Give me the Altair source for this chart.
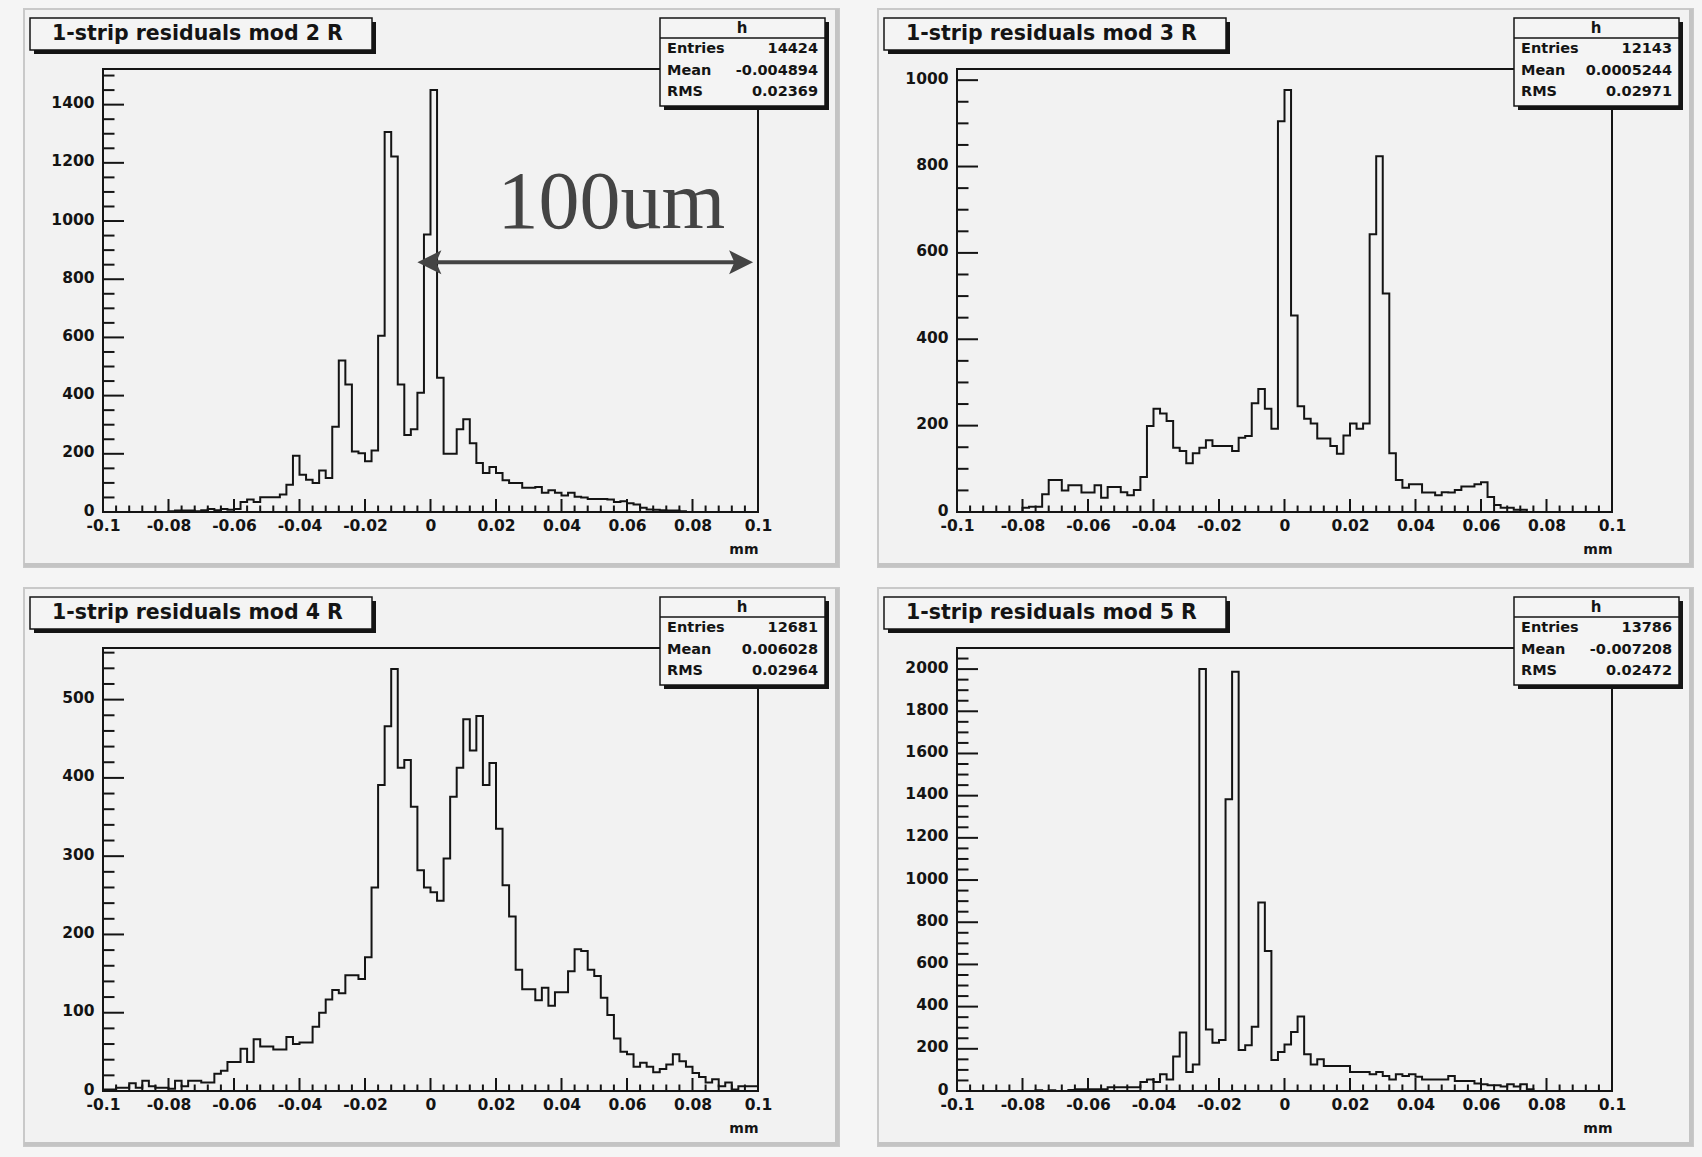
import altair as alt
import pandas as pd

# ---- histogram binning: 100 bins over [-0.1, 0.1] mm ----
X_MIN, X_MAX, N_BINS = -0.1, 0.1, 100

# bin contents (left to right)
counts_mod2 = [
    0, 0, 0, 0, 0, 0, 0, 0, 0, 0,
    3, 5, 5, 5, 3, 6, 10, 6, 10, 8,
    10, 34, 43, 34, 51, 51, 51, 60, 94, 193,
    128, 111, 100, 143, 117, 293, 521, 438, 208, 202,
    174, 211, 606, 1306, 1222, 438, 265, 284, 410, 954,
    1450, 461, 200, 200, 284, 319, 236, 168, 134, 155,
    134, 109, 100, 100, 83, 83, 86, 66, 75, 66,
    57, 66, 52, 50, 45, 45, 45, 43, 34, 37,
    30, 26, 15, 9, 8, 6, 5, 5, 3, 0,
    0, 0, 0, 0, 0, 0, 0, 0, 0, 0,
]
counts_mod3 = [
    0, 0, 0, 0, 0, 0, 0, 0, 0, 0,
    10, 12, 12, 41, 74, 74, 50, 62, 62, 45,
    45, 62, 33, 58, 58, 46, 39, 51, 81, 199,
    239, 228, 211, 149, 141, 113, 136, 149, 166, 153,
    153, 153, 141, 172, 176, 252, 285, 239, 193, 905,
    977, 455, 245, 216, 205, 170, 170, 153, 135, 177,
    205, 193, 205, 643, 824, 506, 136, 74, 56, 64,
    64, 45, 45, 39, 46, 45, 51, 59, 59, 64,
    69, 35, 16, 10, 10, 5, 5, 0, 0, 0,
    0, 0, 0, 0, 0, 0, 0, 0, 0, 0,
]
counts_mod4 = [
    2, 2, 4, 4, 10, 4, 13, 6, 4, 4,
    3, 13, 6, 13, 13, 11, 11, 22, 26, 37,
    37, 54, 37, 66, 57, 57, 53, 53, 69, 60,
    62, 62, 82, 100, 117, 129, 125, 148, 148, 143,
    171, 260, 391, 466, 539, 413, 423, 363, 282, 260,
    254, 243, 297, 376, 413, 475, 435, 479, 391, 419,
    335, 263, 223, 155, 130, 130, 116, 132, 109, 126,
    126, 153, 181, 179, 155, 147, 119, 97, 67, 50,
    47, 31, 36, 31, 24, 28, 34, 47, 38, 31,
    23, 18, 11, 15, 6, 11, 2, 6, 6, 6,
]
counts_mod5 = [
    0, 0, 0, 0, 0, 0, 0, 0, 0, 0,
    0, 0, 3, 0, 3, 0, 0, 5, 8, 8,
    8, 8, 8, 18, 18, 18, 18, 18, 43, 55,
    43, 79, 55, 163, 277, 90, 126, 2000, 292, 229,
    242, 1383, 1987, 194, 217, 305, 893, 664, 147, 185,
    221, 280, 353, 174, 126, 150, 119, 119, 119, 119,
    90, 90, 90, 79, 90, 71, 55, 79, 71, 79,
    68, 55, 55, 55, 55, 71, 47, 47, 47, 36,
    32, 27, 27, 21, 32, 21, 32, 8, 0, 0,
    0, 0, 0, 0, 0, 0, 0, 0, 0, 0,
]

titles = [
    "1-strip residuals mod 2 R",
    "1-strip residuals mod 3 R",
    "1-strip residuals mod 4 R",
    "1-strip residuals mod 5 R",
]
stat_entries = ["14424", "12143", "12681", "13786"]
stat_means = ["-0.004894", "0.0005244", "0.006028", "-0.007208"]
stat_rms = ["0.02369", "0.02971", "0.02964", "0.02472"]
y_major_steps = [200, 200, 100, 200]
y_minor_steps = [50, 50, 20, 50]
x_tick_labels = [-0.1, -0.08, -0.06, -0.04, -0.02, 0, 0.02, 0.04, 0.06, 0.08, 0.1]

# "100um" arrow annotation on the first pad (data coordinates)
arrow_from, arrow_to, arrow_level = -0.004, 0.0985, 858
note_text, note_x, note_y = "100um", 0.0552, 977

# ---- styling ----
W, H = 655, 443
FONT = "DejaVu Sans"
INK = "#141414"
GRAY = "#444444"
PAD_FILL = "#f2f2f2"
PAD_EDGE = "#c9c9c9"
BG = "#f5f5f5"

one = pd.DataFrame({"k": [0]})


def fixed_rect(x0, x1, y0, y1, **kw):
    return alt.Chart(one).mark_rect(**kw).encode(
        x=alt.value(x0), x2=alt.value(x1), y=alt.value(y0), y2=alt.value(y1)
    )


def fixed_text(x, y, s, **kw):
    return alt.Chart(one).mark_text(**kw).encode(
        x=alt.value(x), y=alt.value(y), text=alt.value(s)
    )


def steps(lo, hi, step):
    out, k = [], 0
    while lo + k * step <= hi + 1e-12:
        out.append(round(lo + k * step, 6))
        k += 1
    return out


def make_panel(i, counts, annotate=False):
    ymax = 1.05 * max(counts)
    xs = alt.Scale(domain=[X_MIN, X_MAX], nice=False, zero=False)
    ys = alt.Scale(domain=[0, ymax], nice=False)

    width = (X_MAX - X_MIN) / N_BINS
    lefts = [round(X_MIN + b * width, 6) for b in range(N_BINS)]
    hist_df = pd.DataFrame({"x": lefts + [X_MAX], "n": list(counts) + [counts[-1]]})

    x_axis = alt.Axis(
        values=x_tick_labels, labelExpr="toString(datum.value)",
        ticks=False, domain=False, grid=False,
        labelFont=FONT, labelFontSize=15.5, labelFontWeight="bold", labelColor=INK,
        labelPadding=6, labelFlush=False, labelOverlap=False, labelBound=False,
        title="mm", titleFont=FONT, titleFontSize=14, titleFontWeight="bold",
        titleColor=INK, titleAlign="right", titleBaseline="middle",
        titleX=W, titleY=37, zindex=1,
    )
    y_labels = steps(0, ymax, y_major_steps[i])
    y_axis = alt.Axis(
        values=y_labels, format="d", ticks=False, domain=False, grid=False,
        labelFont=FONT, labelFontSize=15.5, labelFontWeight="bold", labelColor=INK,
        labelPadding=9, labelOverlap=False, labelBound=False, labelFlush=False,
        labelOffset=-2, title=None, zindex=1,
    )

    def X(field):
        return alt.X(field, scale=xs, axis=x_axis)

    def Y(field):
        return alt.Y(field, scale=ys, axis=y_axis)

    layers = []
    # pad background with bevel edges
    layers.append(fixed_rect(-79, 736, -60, 498, fill=PAD_FILL, stroke=PAD_EDGE, strokeWidth=2))
    layers.append(fixed_rect(732, 736, -60, 498, fill="#c4c4c4"))
    layers.append(fixed_rect(-79, 736, 494, 498, fill="#c4c4c4"))

    # histogram outline
    layers.append(
        alt.Chart(hist_df).mark_line(interpolate="step-after", color=INK, strokeWidth=2, clip=True)
        .encode(x=X("x:Q"), y=Y("n:Q"))
    )

    # inward ticks on x
    x_major = steps(X_MIN, X_MAX, 0.02)
    x_minor = [v for v in steps(X_MIN, X_MAX, 0.004) if all(abs(v - m) > 1e-9 for m in x_major)]
    layers.append(
        alt.Chart(pd.DataFrame({"x": x_major})).mark_rule(color=INK, strokeWidth=2)
        .encode(x=X("x:Q"), y=alt.value(H), y2=alt.value(H - 13))
    )
    layers.append(
        alt.Chart(pd.DataFrame({"x": x_minor})).mark_rule(color=INK, strokeWidth=2)
        .encode(x=X("x:Q"), y=alt.value(H), y2=alt.value(H - 6.5))
    )
    # inward ticks on y
    y_minor = [v for v in steps(0, ymax, y_minor_steps[i]) if v not in y_labels]
    layers.append(
        alt.Chart(pd.DataFrame({"n": y_labels})).mark_rule(color=INK, strokeWidth=2)
        .encode(y=Y("n:Q"), x=alt.value(0), x2=alt.value(21))
    )
    layers.append(
        alt.Chart(pd.DataFrame({"n": y_minor})).mark_rule(color=INK, strokeWidth=2)
        .encode(y=Y("n:Q"), x=alt.value(0), x2=alt.value(11.5))
    )

    # frame
    layers.append(fixed_rect(0, W, 0, H, fillOpacity=0, stroke=INK, strokeWidth=2))

    # title box
    layers.append(fixed_rect(-69, 273, -47, -15, fill=INK))
    layers.append(fixed_rect(-73, 269, -51, -19, fill="#f4f4f4", stroke=INK, strokeWidth=1.5))
    layers.append(fixed_text(-51, -35, titles[i], font=FONT, fontSize=20.5, fontWeight="bold",
                             color=INK, align="left", baseline="middle"))

    # statistics box
    layers.append(fixed_rect(561, 726, -47, 41, fill=INK))
    layers.append(fixed_rect(557, 722, -51, 37, fill="#f4f4f4", stroke=INK, strokeWidth=1.5))
    layers.append(
        alt.Chart(one).mark_rule(color=INK, strokeWidth=1.5)
        .encode(x=alt.value(557), x2=alt.value(722), y=alt.value(-31))
    )
    layers.append(fixed_text(639, -41, "h", font=FONT, fontSize=15, fontWeight="bold",
                             color=INK, align="center", baseline="middle"))
    rows = [("Entries", stat_entries[i], -20), ("Mean", stat_means[i], 2), ("RMS", stat_rms[i], 23)]
    for name, val, yy in rows:
        layers.append(fixed_text(564, yy, name, font=FONT, fontSize=14.5, fontWeight="bold",
                                 color=INK, align="left", baseline="middle"))
        layers.append(fixed_text(715, yy, val, font=FONT, fontSize=14.5, fontWeight="bold",
                                 color=INK, align="right", baseline="middle"))

    if annotate:
        shaft = pd.DataFrame({"x": [arrow_from + 0.003], "x2": [arrow_to - 0.003], "n": [arrow_level]})
        layers.append(
            alt.Chart(shaft).mark_rule(color=GRAY, strokeWidth=4)
            .encode(x=X("x:Q"), x2="x2:Q", y=Y("n:Q"))
        )
        right_head = pd.DataFrame({"x": [arrow_to], "n": [arrow_level]})
        left_head = pd.DataFrame({"x": [arrow_from], "n": [arrow_level]})
        layers.append(
            alt.Chart(right_head).mark_point(shape="M0,0 L-1,-0.5 L-0.78,0 L-1,0.5 Z", size=2304,
                                             filled=True, color=GRAY, opacity=1, strokeWidth=0)
            .encode(x=X("x:Q"), y=Y("n:Q"))
        )
        layers.append(
            alt.Chart(left_head).mark_point(shape="M0,0 L1,-0.5 L0.78,0 L1,0.5 Z", size=2304,
                                            filled=True, color=GRAY, opacity=1, strokeWidth=0)
            .encode(x=X("x:Q"), y=Y("n:Q"))
        )
        note = pd.DataFrame({"x": [note_x], "n": [note_y], "t": [note_text]})
        layers.append(
            alt.Chart(note).mark_text(font="Liberation Serif", fontSize=82, color=GRAY,
                                      align="center", baseline="alphabetic")
            .encode(x=X("x:Q"), y=Y("n:Q"), text="t:N")
        )

    return alt.layer(*layers).properties(width=W, height=H)


panels = [
    make_panel(0, counts_mod2, annotate=True),
    make_panel(1, counts_mod3),
    make_panel(2, counts_mod4),
    make_panel(3, counts_mod5),
]

chart = alt.concat(
    *panels,
    columns=2,
    spacing={"row": 136, "column": 199},
    bounds="flush",
    background=BG,
    padding={"left": 23, "top": 8, "right": 8, "bottom": 10},
).configure_view(strokeWidth=0)

chart.save("out.html", embed_options={"renderer": "svg", "actions": False})
